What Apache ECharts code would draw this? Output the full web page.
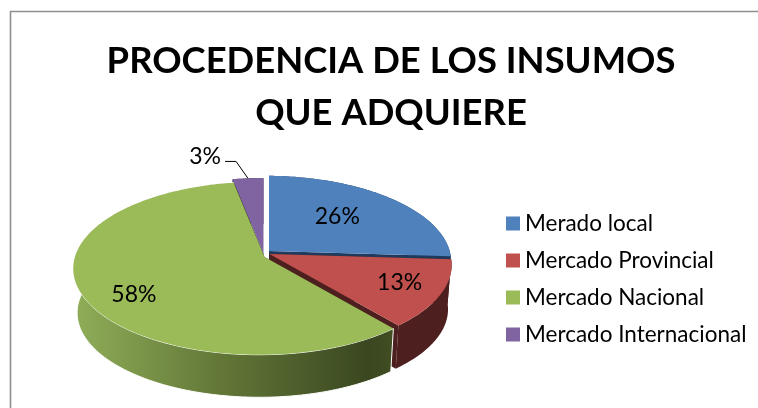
<!DOCTYPE html>
<html><head><meta charset="utf-8">
<style>html,body{margin:0;padding:0;background:#fff}#c{width:758px;height:408px}</style>
<script src="https://cdn.jsdelivr.net/npm/echarts@6/dist/echarts.min.js"></script>
</head><body><div id="c"></div>
<script>
var titleLines = ['PROCEDENCIA DE LOS INSUMOS', 'QUE ADQUIERE'];
var categories = ['Merado local', 'Mercado Provincial', 'Mercado Nacional', 'Mercado Internacional'];
var values = [26, 13, 58, 3];

var FONT = 'Lato';
var topColors = ['#4f81bd', '#c0504d', '#9bbb59', '#8064a2'];
var wallColors = ['#1f3a5c', '#4e1f1f', null, '#352a4a'];
var apex = [[269, 251], [269.5, 254], [264.5, 257], [263.5, 253.5]];
var labelFactor = [[0.56, 0.66], [0.76, 0.72], [0.72, 0.97], null];
var drawOrder = [0, 3, 1, 2];

var R = 185, RY = 85, K = 0.13, M = 0.024, DEPTH = 44.5, BOTTOM_SCALE = 0.98;
var total = values.reduce(function (a, b) { return a + b; }, 0);
function startAngle(i) {
  var s = 0;
  for (var j = 0; j < i; j++) s += values[j];
  return s / total * Math.PI * 2;
}
function project(i, u, v, lower) {
  var w = 1 + K * v + M * u;
  var s = lower ? BOTTOM_SCALE : 1;
  return [apex[i][0] + s * R * u / w, apex[i][1] + (lower ? DEPTH : 0) - s * RY * v / w];
}
function rim(i, a0, a1, lower) {
  var pts = [], n = Math.max(2, Math.ceil((a1 - a0) / 0.02));
  for (var k = 0; k <= n; k++) {
    var a = a0 + (a1 - a0) * k / n;
    pts.push(project(i, Math.sin(a), Math.cos(a), lower));
  }
  return pts;
}
function renderSlice(i) {
  var a0 = startAngle(i), a1 = startAngle(i + 1);
  var top = rim(i, a0, a1, false), bot = rim(i, a0, a1, true);
  var p = project(i, 0, 0, false), q = project(i, 0, 0, true);
  var wallFill = i === 2
    ? new echarts.graphic.LinearGradient(0, 0, 1, 0, [
        { offset: 0, color: '#90ae59' }, { offset: 0.45, color: '#637838' },
        { offset: 0.92, color: '#3a4720' }, { offset: 1, color: '#414e22' }])
    : wallColors[i];
  var kids = [];
  kids.push({ type: 'polygon', shape: { points: [p, top[0], bot[0], q] }, style: { fill: i === 2 ? '#3a4720' : wallColors[i] } });
  kids.push({ type: 'polygon', shape: { points: [p, top[top.length - 1], bot[bot.length - 1], q] }, style: { fill: i === 2 ? '#3a4720' : wallColors[i] } });
  kids.push({ type: 'polygon', shape: { points: top.concat(bot.slice().reverse()) },
    style: i === 2 ? { fill: wallFill, stroke: '#fff', lineWidth: 1 } : { fill: wallFill } });
  kids.push({ type: 'polygon', shape: { points: [p].concat(top) }, style: { fill: topColors[i] } });

  var mid = (a0 + a1) / 2, mu = Math.sin(mid), mv = Math.cos(mid), txt = values[i] + '%';
  var edge = project(i, mu, mv, false);
  if (labelFactor[i]) {
    var f = labelFactor[i];
    kids.push({ type: 'text', style: {
      x: p[0] + (edge[0] - p[0]) * f[0], y: p[1] + (edge[1] - p[1]) * f[1], text: txt,
      fill: '#000', font: '23px ' + FONT, align: 'center', verticalAlign: 'middle' } });
  } else {
    var elbow = [edge[0] - 12, edge[1] - 17], end = [elbow[0] - 11, elbow[1]];
    kids.push({ type: 'polyline', shape: { points: [edge, elbow, end] }, style: { stroke: '#000', lineWidth: 1, fill: null } });
    kids.push({ type: 'text', style: { x: end[0] - 4, y: end[1] - 5, text: txt,
      fill: '#000', font: '23px ' + FONT, align: 'right', verticalAlign: 'middle' } });
  }
  return { type: 'group', children: kids };
}

var chart = echarts.init(document.getElementById('c'), null, { renderer: 'canvas' });
chart.setOption({
  animation: false,
  backgroundColor: '#fff',
  title: {
    text: titleLines.join('\n'), left: 386, top: 30, textAlign: 'center',
    textStyle: { fontFamily: FONT, fontWeight: 'bold', fontSize: 36.4, lineHeight: 52, color: '#000' }
  },
  legend: {
    orient: 'vertical', left: 501, top: 207, itemWidth: 14, itemHeight: 14, itemGap: 14,
    icon: 'rect', data: categories, selectedMode: false,
    textStyle: { fontFamily: FONT, fontSize: 22.5, color: '#000', padding: [0, 0, 0, 0] }
  },
  graphic: [{ type: 'rect', z: -10, shape: { x: 10.5, y: 11.5, width: 900, height: 600 },
    style: { fill: '#fff', stroke: '#8e8e8e', lineWidth: 1.6 }, silent: true }],
  series: drawOrder.map(function (i) {
    return {
      type: 'custom', name: categories[i], coordinateSystem: 'none',
      itemStyle: { color: topColors[i] }, silent: true,
      data: [values[i]],
      renderItem: function () { return renderSlice(i); }
    };
  })
});
</script></body></html>
